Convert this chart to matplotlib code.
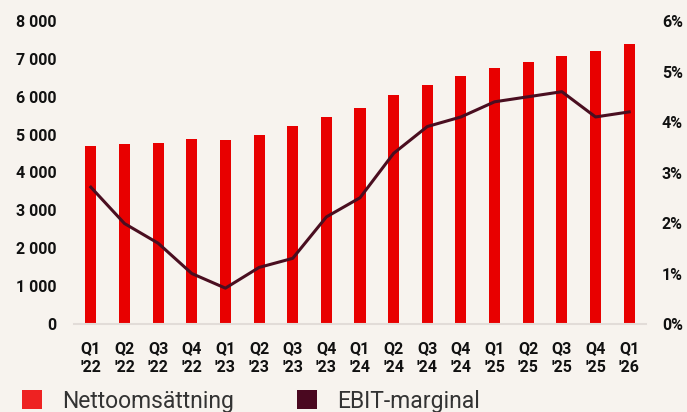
import matplotlib
matplotlib.use("Agg")
import matplotlib.pyplot as plt
from matplotlib.patches import Patch
from matplotlib.ticker import FuncFormatter, MultipleLocator
import numpy as np

quarters = ["Q1\n'22", "Q2\n'22", "Q3\n'22", "Q4\n'22",
            "Q1\n'23", "Q2\n'23", "Q3\n'23", "Q4\n'23",
            "Q1\n'24", "Q2\n'24", "Q3\n'24", "Q4\n'24",
            "Q1\n'25", "Q2\n'25", "Q3\n'25", "Q4\n'25",
            "Q1\n'26"]
net_sales = [4705, 4740, 4775, 4880, 4855, 4985, 5225, 5455,
             5710, 6050, 6300, 6535, 6765, 6930, 7070, 7195, 7390]
ebit_margin = [2.71, 1.99, 1.60, 1.00, 0.71, 1.12, 1.30, 2.12,
               2.50, 3.38, 3.91, 4.10, 4.40, 4.50, 4.60, 4.10, 4.20]

BG = "#F7F3EE"
BAR = "#E80000"
LINE = "#4A0E20"
TXT = "#111111"

plt.rcParams['font.family'] = ['Roboto', 'DejaVu Sans']

fig = plt.figure(figsize=(6.87, 4.12), dpi=100, facecolor=BG)
ax = fig.add_axes([74/687, (412-324)/412, 572/687, 303/412])
ax.set_facecolor(BG)

x = np.arange(len(quarters))
ax.bar(x, net_sales, width=0.33, color=BAR, zorder=2)
ax.set_xlim(-0.5, len(quarters) - 0.5)
ax.set_ylim(0, 8000)
ax.yaxis.set_major_locator(MultipleLocator(1000))
ax.yaxis.set_major_formatter(FuncFormatter(lambda v, p: f"{int(v):,}".replace(",", " ")))
ax.set_xticks(x)
ax.set_xticklabels(quarters, linespacing=1.4)

ax2 = ax.twinx()
ax2.plot(x, ebit_margin, color=LINE, linewidth=2.2, zorder=3)
ax2.set_ylim(0, 6)
ax2.yaxis.set_major_locator(MultipleLocator(1))
ax2.yaxis.set_major_formatter(FuncFormatter(lambda v, p: f"{int(v)}%"))

for a in (ax, ax2):
    for s in a.spines.values():
        s.set_visible(False)
    a.tick_params(length=0, labelsize=11.5, labelcolor=TXT)
    for lbl in a.get_yticklabels() + a.get_xticklabels():
        lbl.set_fontweight("bold")
ax.spines['bottom'].set_visible(True)
ax.spines['bottom'].set_color("#E2DCD8")
ax.spines['bottom'].set_linewidth(1.5)
ax.tick_params(axis='y', pad=12.5)
ax.tick_params(axis='x', pad=12)
ax2.tick_params(axis='y', pad=11.5)

handles = [Patch(facecolor="#EE2222", edgecolor="none", label="Nettoomsättning"),
           Patch(facecolor="#4A0820", edgecolor="none", label="EBIT-marginal")]
leg = fig.legend(handles=handles, loc="lower left", bbox_to_anchor=(11/687, -12/412),
                 ncol=2, frameon=False, fontsize=16.5, handlelength=0.85,
                 handleheight=0.85, handletextpad=0.9, columnspacing=2.75,
                 borderpad=0, labelcolor="#333333")

fig.savefig("out.png", dpi=100, facecolor=BG)
